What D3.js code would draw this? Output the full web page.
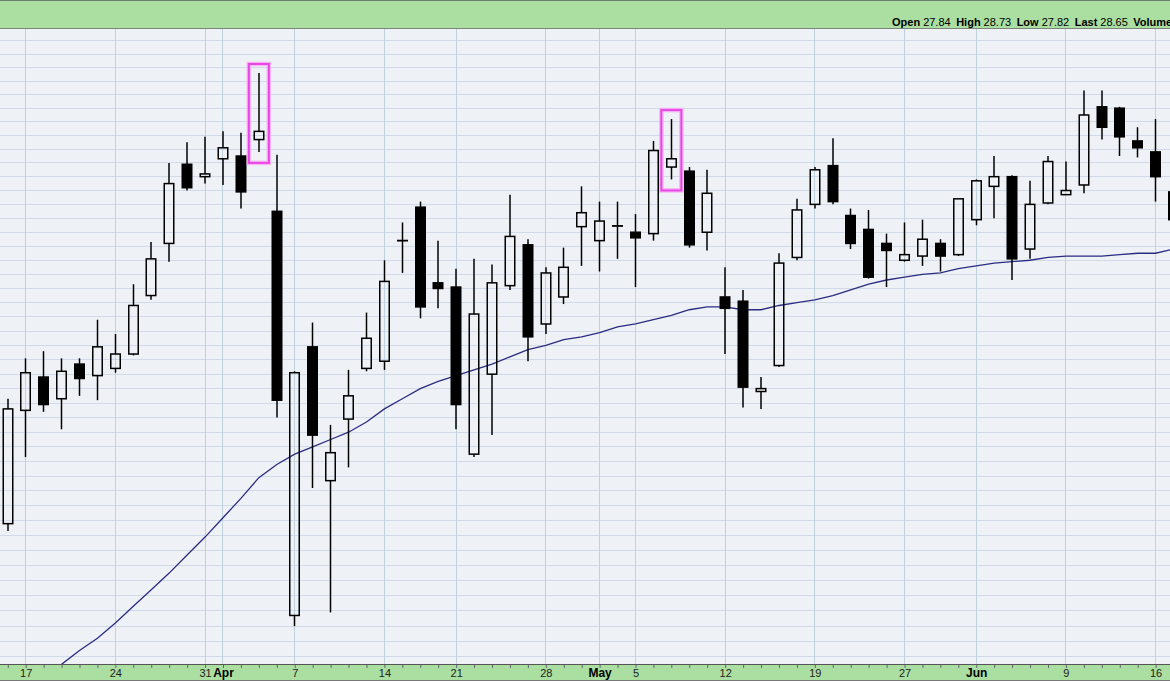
<!DOCTYPE html>
<html><head><meta charset="utf-8">
<script src="https://cdn.jsdelivr.net/npm/d3@7"></script>
<style>html,body{margin:0;padding:0;background:#fff;overflow:hidden}svg{display:block;font-family:"Liberation Sans",Arial,sans-serif}</style>
</head><body><svg id="c" width="1170" height="681"></svg>
<script>
// ---------- data ----------
const dates = [
"2025-03-14",
"2025-03-17","2025-03-18","2025-03-19","2025-03-20","2025-03-21",
"2025-03-24","2025-03-25","2025-03-26","2025-03-27","2025-03-28",
"2025-03-31","2025-04-01","2025-04-02","2025-04-03","2025-04-04",
"2025-04-07","2025-04-08","2025-04-09","2025-04-10","2025-04-11",
"2025-04-14","2025-04-15","2025-04-16","2025-04-17",
"2025-04-21","2025-04-22","2025-04-23","2025-04-24","2025-04-25",
"2025-04-28","2025-04-29","2025-04-30","2025-05-01","2025-05-02",
"2025-05-05","2025-05-06","2025-05-07","2025-05-08","2025-05-09",
"2025-05-12","2025-05-13","2025-05-14","2025-05-15","2025-05-16",
"2025-05-19","2025-05-20","2025-05-21","2025-05-22","2025-05-23",
"2025-05-27","2025-05-28","2025-05-29","2025-05-30",
"2025-06-02","2025-06-03","2025-06-04","2025-06-05","2025-06-06",
"2025-06-09","2025-06-10","2025-06-11","2025-06-12","2025-06-13",
"2025-06-16","2025-06-17"];

const openP = [
30.48,31.25,31.48,31.33,31.57,31.49,31.54,31.64,32.05,32.42,32.99,
32.90,33.03,33.05,33.17,32.65,29.87,31.69,30.77,31.19,31.54,
31.59,32.44,32.68,32.14,32.11,30.95,31.50,32.12,32.41,31.85,
32.04,32.54,32.44,32.55,32.50,32.49,32.97,32.94,32.50,32.04,
32.01,31.38,31.56,32.32,32.70,32.98,32.62,32.52,32.42,32.30,
32.33,32.42,32.34,32.59,32.83,32.90,32.38,32.71,32.77,32.84,
33.41,33.40,33.16,33.08,32.79];
const highP = [
31.33,31.61,31.66,31.61,31.61,31.88,31.78,32.13,32.43,33.00,33.15,
33.19,33.23,33.22,33.66,33.06,31.52,31.86,31.15,31.53,31.93,
32.30,32.57,32.72,32.44,32.24,32.31,32.27,32.77,32.45,32.25,
32.39,32.83,32.72,32.72,32.63,33.16,33.32,32.97,32.95,32.25,
32.09,31.48,32.35,32.74,32.97,33.18,32.67,32.66,32.49,32.57,
32.59,32.45,32.74,32.88,33.05,32.91,32.87,33.05,33.01,33.53,
33.53,33.41,33.26,33.32,32.84];
const lowP = [
30.43,30.93,31.24,31.12,31.35,31.32,31.51,31.63,32.02,32.29,32.80,
32.85,32.84,32.67,33.08,31.20,29.80,30.72,29.89,30.86,31.52,
31.53,32.21,31.89,31.96,31.12,30.93,31.08,32.09,31.59,31.78,
31.99,32.26,32.22,32.31,32.11,32.44,32.88,32.39,32.37,31.64,
31.27,31.26,31.55,32.30,32.67,32.70,32.38,32.17,32.11,32.29,
32.26,32.22,32.33,32.55,32.60,32.16,32.31,32.70,32.77,32.78,
33.17,33.05,33.04,32.72,32.55];
const closeP = [
31.26,31.51,31.29,31.52,31.47,31.69,31.64,31.98,32.31,32.85,32.82,
32.92,33.11,32.79,33.23,31.32,31.51,31.08,30.96,31.35,31.75,
32.15,32.44,31.97,32.10,31.29,31.92,32.14,32.47,31.76,32.21,
32.25,32.64,32.58,32.54,32.46,33.09,33.03,32.41,32.78,31.96,
31.41,31.40,32.28,32.66,32.95,32.72,32.42,32.18,32.37,32.34,
32.45,32.33,32.74,32.87,32.90,32.31,32.70,33.01,32.80,33.35,
33.26,33.19,33.11,32.90,32.59];
const ma50 = [
29.30,29.38,29.47,29.55,29.64,29.72,29.82,29.93,30.04,30.15,30.27,
30.39,30.52,30.65,30.79,30.88,30.95,31.00,31.05,31.10,31.17,
31.26,31.33,31.40,31.45,31.49,31.53,31.57,31.62,31.67,31.70,
31.74,31.76,31.79,31.83,31.85,31.88,31.91,31.95,31.97,31.97,
31.95,31.95,31.98,32.00,32.02,32.05,32.09,32.13,32.16,32.18,
32.20,32.21,32.24,32.26,32.28,32.29,32.30,32.32,32.33,32.33,
32.33,32.34,32.35,32.35,32.38];

const tickDates  = ["2025-03-17","2025-03-24","2025-03-31","2025-04-01","2025-04-07","2025-04-14","2025-04-21","2025-04-28","2025-05-01","2025-05-05","2025-05-12","2025-05-19","2025-05-27","2025-06-02","2025-06-09","2025-06-16"];
const tickLabels = ["17","24","31","Apr","7","14","21","28","May","5","12","19","27","Jun","9","16"];
const monthLabels = ["Apr","May","Jun"];
const highlighted = ["2025-04-03","2025-05-07"];
const headerLabels = ["Open","High","Low","Last","Volume"];
const headerValues = ["27.84","28.73","27.82","28.65",""];

// ---------- layout ----------
const W = 1170, H = 681, plotTop = 29, plotBottom = 664;
const svg = d3.select("#c");
const x = d3.scalePoint().domain(dates).range([7.76, 1173.54]);
const y = d3.scaleLog().domain([29.6, 33.9]).range([656.7, 40.7]);

const defs = svg.append("defs");
defs.append("clipPath").attr("id","clip").append("rect")
  .attr("x",0).attr("y",plotTop).attr("width",W).attr("height",plotBottom-plotTop);

// plot background
svg.append("rect").attr("x",0).attr("y",plotTop).attr("width",W).attr("height",plotBottom-plotTop).attr("fill","#eef1f6");

const plot = svg.append("g").attr("clip-path","url(#clip)");

// horizontal grid
const yGrid = d3.range(292, 341).map(v => v/10);
plot.append("g").selectAll("line").data(yGrid).join("line")
  .attr("x1",0).attr("x2",W)
  .attr("y1",d=>Math.floor(y(d))+0.5).attr("y2",d=>Math.floor(y(d))+0.5)
  .attr("stroke","#d1dae6").attr("stroke-width",1);

// vertical grid
plot.append("g").selectAll("line").data(tickDates).join("line")
  .attr("x1",d=>Math.floor(x(d))+0.5).attr("x2",d=>Math.floor(x(d))+0.5)
  .attr("y1",plotTop).attr("y2",plotBottom)
  .attr("stroke","#bed1dc").attr("stroke-width",1);

// moving average
const line = d3.line().x((d,i)=>x(dates[i])).y(d=>y(d));
plot.append("path").datum(ma50).attr("d",line).attr("fill","none")
  .attr("stroke","#2b2b82").attr("stroke-width",1.3);

// candles
const candles = dates.map((d,i)=>({d,o:openP[i],h:highP[i],l:lowP[i],c:closeP[i]}));
const cg = plot.append("g").selectAll("g").data(candles).join("g");
const bw = 9.5;
cg.each(function(c){
  const g = d3.select(this);
  const cx = Math.round(x(c.d)*2)/2;
  const yt = y(Math.max(c.o,c.c)), yb = y(Math.min(c.o,c.c));
  const up = c.c >= c.o;
  g.append("line").attr("x1",cx).attr("x2",cx).attr("y1",y(c.h)).attr("y2",yt)
    .attr("stroke","#000").attr("stroke-width",1.5);
  g.append("line").attr("x1",cx).attr("x2",cx).attr("y1",yb).attr("y2",y(c.l))
    .attr("stroke","#000").attr("stroke-width",1.5);
  if (yb - yt < 1.5) {
    g.append("rect").attr("x",cx-bw/2-0.75).attr("y",(yt+yb)/2-0.9).attr("width",bw+1.5).attr("height",1.8).attr("fill","#000");
  } else {
    g.append("rect").attr("x",cx-bw/2).attr("y",yt).attr("width",bw).attr("height",yb-yt)
      .attr("fill",up?"none":"#000").attr("stroke","#000").attr("stroke-width",1.5);
  }
});

// highlight boxes
const hl = plot.append("g").selectAll("g").data(highlighted).join("g");
hl.each(function(d){
  const i = dates.indexOf(d);
  const cx = x(d), y0 = y(highP[i]) - 9, y1 = y(lowP[i]) + 11;
  const g = d3.select(this);
  g.append("rect").attr("x",cx-10).attr("y",y0).attr("width",20).attr("height",y1-y0)
    .attr("fill","none").attr("stroke","#f7a6f3").attr("stroke-width",4.5).attr("opacity",0.8);
  g.append("rect").attr("x",cx-10).attr("y",y0).attr("width",20).attr("height",y1-y0)
    .attr("fill","none").attr("stroke","#ea45e6").attr("stroke-width",2);
});

// ---------- header ----------
svg.append("rect").attr("x",0).attr("y",0).attr("width",W).attr("height",plotTop).attr("fill","#aadfa1");
svg.append("line").attr("x1",0).attr("x2",W).attr("y1",0.5).attr("y2",0.5).attr("stroke","#6d7d6d");
svg.append("line").attr("x1",0).attr("x2",W).attr("y1",28.5).attr("y2",28.5).attr("stroke","#7b857b");
const ht = svg.append("text").attr("x",892).attr("y",26).attr("font-size",11).attr("fill","#000");
headerLabels.forEach((lab,i)=>{
  ht.append("tspan").attr("font-weight","bold").attr("dx", i===0?0:5.5).text(lab);
  if (headerValues[i]) ht.append("tspan").attr("dx",3).text(headerValues[i]);
});

// ---------- bottom axis ----------
svg.append("rect").attr("x",0).attr("y",plotBottom).attr("width",W).attr("height",H-plotBottom).attr("fill","#aadfa1");
const ax = svg.append("g").attr("transform",`translate(0,${plotBottom+1})`)
  .call(d3.axisBottom(x).tickValues(dates).tickSize(3).tickFormat(""));
ax.select(".domain").remove();
ax.selectAll(".tick line").attr("stroke","#667").attr("stroke-width",1);
svg.append("line").attr("x1",0).attr("x2",W).attr("y1",plotBottom+0.5).attr("y2",plotBottom+0.5).attr("stroke","#555").attr("stroke-width",1.2);
svg.append("line").attr("x1",0).attr("x2",W).attr("y1",H-0.5).attr("y2",H-0.5).attr("stroke","#777").attr("stroke-width",1);

const lab = svg.append("g").attr("transform",`translate(0,${plotBottom+1})`)
  .call(d3.axisBottom(x).tickValues(tickDates).tickSize(0).tickFormat((d,i)=>tickLabels[i]));
lab.select(".domain").remove();
lab.selectAll(".tick text")
  .attr("y",11.5).attr("dy",0)
  .attr("font-family","'Liberation Sans',Arial,sans-serif")
  .attr("font-size",(d,i)=>monthLabels.includes(tickLabels[i])?12:11)
  .attr("font-weight",(d,i)=>monthLabels.includes(tickLabels[i])?"bold":"normal")
  .attr("fill",(d,i)=>monthLabels.includes(tickLabels[i])?"#000":"#222");
</script></body></html>
